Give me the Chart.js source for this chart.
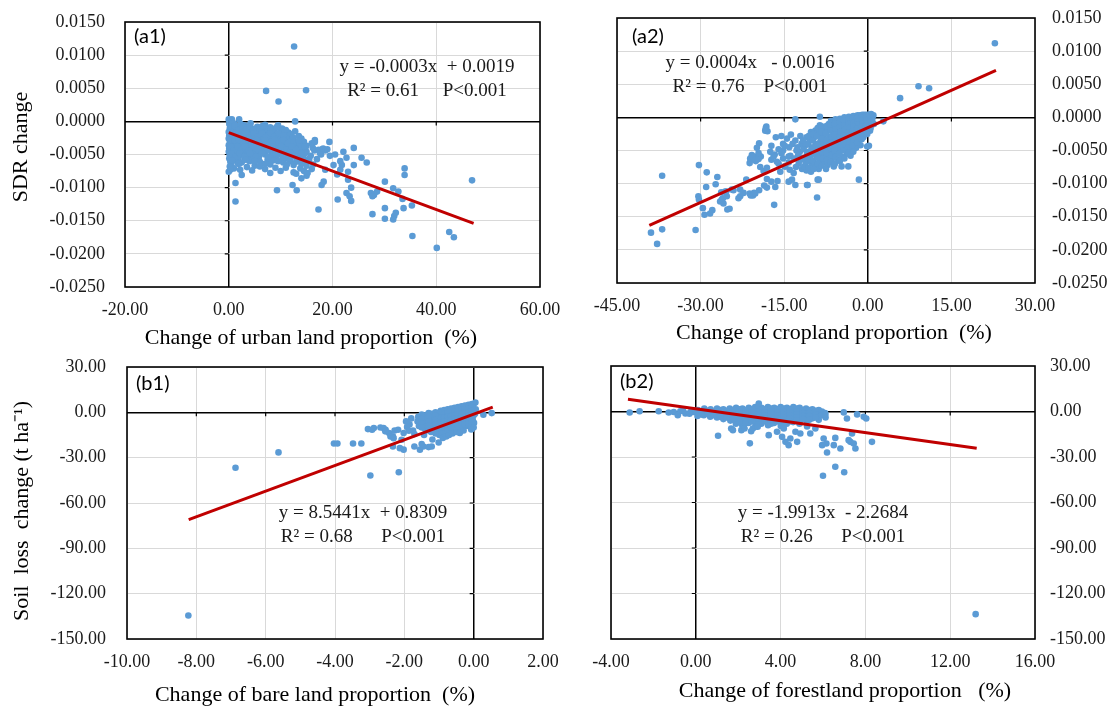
<!DOCTYPE html>
<html>
<head>
<meta charset="utf-8">
<script src="https://cdn.jsdelivr.net/npm/chart.js@4.4.1/dist/chart.umd.min.js"></script>
<style>
  html, body { margin: 0; padding: 0; background: #fff; }
  #wrap { position: relative; width: 1111px; height: 706px; overflow: hidden; }
  canvas { position: absolute; }
</style>
</head>
<body>
<div id="wrap">
  <canvas id="c-a1" width="560" height="352" style="left:0;top:0;width:560px;height:352px"></canvas>
  <canvas id="c-a2" width="551" height="352" style="left:560px;top:0;width:551px;height:352px"></canvas>
  <canvas id="c-b1" width="560" height="366" style="left:0;top:340px;width:560px;height:366px"></canvas>
  <canvas id="c-b2" width="551" height="366" style="left:560px;top:340px;width:551px;height:366px"></canvas>
</div>
<script>
// ---- axes ----
const sdrTicks = [-0.025, -0.02, -0.015, -0.01, -0.005, 0, 0.005, 0.01, 0.015];
const soilTicks = [-150, -120, -90, -60, -30, 0, 30];
const urbanTicks = [-20, 0, 20, 40, 60];
const cropTicks = [-45, -30, -15, 0, 15, 30];
const bareTicks = [-10, -8, -6, -4, -2, 0, 2];
const forestTicks = [-4, 0, 4, 8, 12, 16];

// ---- (a1) urban land vs SDR ----
const urbanPts = [
  [0.0,0.0003],[0.6,0.0003],[2.0,0.0003],
  [0.1,-0.0004],[0.5,-0.0006],[1.0,-0.0003],[1.6,-0.0007],[2.3,-0.0004],[3.0,-0.0006],[4.2,-0.0003],[5.5,-0.0008],[7.0,-0.0005],[9.5,-0.0006],
  [0.2,-0.0011],[0.7,-0.0009],[1.3,-0.0012],[2.0,-0.0010],[2.8,-0.0013],[3.5,-0.0009],[4.5,-0.0011],[5.2,-0.0012],[6.0,-0.0010],[7.2,-0.0013],[8.0,-0.0009],[10.3,-0.0011],
  [0.0,-0.0016],[0.4,-0.0014],[0.9,-0.0017],[1.5,-0.0015],[2.2,-0.0016],[3.0,-0.0014],[3.8,-0.0017],[4.6,-0.0015],[5.4,-0.0016],[6.3,-0.0014],[7.0,-0.0017],[8.0,-0.0015],[8.8,-0.0016],[10.0,-0.0014],[11.5,-0.0017],[12.8,-0.0015],
  [0.1,-0.0021],[0.6,-0.0019],[1.2,-0.0022],[1.9,-0.0020],[2.6,-0.0021],[3.4,-0.0019],[4.2,-0.0022],[5.0,-0.0020],[5.8,-0.0021],[6.6,-0.0019],[7.4,-0.0022],[8.2,-0.0020],[9.0,-0.0021],[10.0,-0.0023],[11.0,-0.0020],[13.5,-0.0022],
  [0.0,-0.0026],[0.5,-0.0024],[1.0,-0.0027],[1.7,-0.0025],[2.4,-0.0026],[3.1,-0.0024],[3.9,-0.0027],[4.7,-0.0025],[5.5,-0.0026],[6.3,-0.0024],[7.1,-0.0027],[7.9,-0.0025],[8.7,-0.0026],[9.6,-0.0024],[10.5,-0.0027],[11.5,-0.0025],[12.3,-0.0028],[14.0,-0.0026],
  [0.2,-0.0031],[0.8,-0.0029],[1.4,-0.0032],[2.1,-0.0030],[2.9,-0.0031],[3.6,-0.0029],[4.4,-0.0032],[5.2,-0.0030],[6.0,-0.0031],[6.8,-0.0029],[7.6,-0.0032],[8.4,-0.0030],[9.3,-0.0031],[10.2,-0.0029],[11.0,-0.0032],[12.0,-0.0030],[13.0,-0.0033],[14.5,-0.0031],[16.6,-0.0028],
  [0.0,-0.0036],[0.6,-0.0034],[1.2,-0.0037],[1.9,-0.0035],[2.6,-0.0036],[3.3,-0.0034],[4.1,-0.0037],[4.9,-0.0035],[5.7,-0.0036],[6.5,-0.0034],[7.3,-0.0037],[8.2,-0.0035],[9.0,-0.0036],[9.9,-0.0034],[10.8,-0.0037],[11.7,-0.0035],[12.6,-0.0036],[13.6,-0.0034],[15.0,-0.0037],
  [0.1,-0.0041],[0.7,-0.0039],[1.4,-0.0042],[2.1,-0.0040],[2.8,-0.0041],[3.6,-0.0039],[4.4,-0.0042],[5.2,-0.0040],[6.0,-0.0041],[6.9,-0.0039],[7.8,-0.0042],[8.7,-0.0040],[9.6,-0.0041],[10.6,-0.0039],[11.5,-0.0042],[12.5,-0.0040],[13.4,-0.0041],[14.5,-0.0043],[16.2,-0.0040],[18.0,-0.0042],
  [0.0,-0.0046],[0.5,-0.0044],[1.1,-0.0047],[1.8,-0.0045],[2.6,-0.0046],[3.4,-0.0044],[4.3,-0.0047],[5.2,-0.0045],[6.2,-0.0046],[7.2,-0.0044],[8.3,-0.0047],[9.4,-0.0045],[10.5,-0.0046],[11.6,-0.0044],[12.7,-0.0047],[13.8,-0.0045],[15.0,-0.0046],[16.5,-0.0044],
  [0.2,-0.0051],[0.9,-0.0049],[1.7,-0.0052],[2.6,-0.0050],[3.6,-0.0051],[4.7,-0.0049],[5.8,-0.0052],[7.0,-0.0050],[8.3,-0.0051],[9.8,-0.0049],[11.2,-0.0052],[12.3,-0.0050],[13.5,-0.0051],[14.6,-0.0049],[15.8,-0.0052],[17.8,-0.0050],
  [0.1,-0.0056],[0.8,-0.0054],[1.8,-0.0057],[3.0,-0.0055],[4.4,-0.0056],[5.8,-0.0054],[7.5,-0.0057],[9.2,-0.0055],[10.9,-0.0056],[12.0,-0.0054],[13.2,-0.0057],[14.3,-0.0055],[15.5,-0.0056],
  [0.3,-0.0061],[1.2,-0.0059],[2.5,-0.0062],[4.0,-0.0060],[6.0,-0.0061],[8.5,-0.0059],[10.5,-0.0062],[11.8,-0.0060],[13.0,-0.0061],[14.4,-0.0059],
  [0.5,-0.0066],[2.0,-0.0064],[5.0,-0.0067],[8.0,-0.0065],[12.5,-0.0066],[14.0,-0.0064],[15.0,-0.0067],
  [1.0,-0.0071],[3.5,-0.0069],[7.0,-0.0072],[11.0,-0.0070],[13.8,-0.0071],
  [0.0,-0.0076],[4.5,-0.0074],[12.5,-0.0077],[14.5,-0.0075],
  [2.5,-0.0081],[13.0,-0.0079],[15.0,-0.0082],[14.0,-0.0086],
  [0.3,-0.0008],[1.1,-0.0007],[1.9,-0.0013],[2.6,-0.0008],[3.3,-0.0012],[4.0,-0.0007],[4.8,-0.0013],[6.5,-0.0007],[8.5,-0.0012],[9.2,-0.0009],[11.0,-0.0013],
  [0.2,-0.0018],[0.8,-0.0023],[1.6,-0.0018],[2.4,-0.0023],[3.2,-0.0018],[4.0,-0.0024],[4.8,-0.0018],[5.6,-0.0023],[6.4,-0.0018],[7.2,-0.0024],[8.0,-0.0018],[8.9,-0.0023],[9.6,-0.0018],[10.6,-0.0021],[12.0,-0.0019],[12.4,-0.0024],
  [0.3,-0.0028],[1.2,-0.0029],[2.0,-0.0028],[2.8,-0.0034],[3.7,-0.0027],[4.5,-0.0034],[5.4,-0.0028],[6.2,-0.0033],[7.0,-0.0029],[7.9,-0.0033],[8.8,-0.0028],[9.7,-0.0033],[10.6,-0.0028],[11.4,-0.0033],[12.5,-0.0031],[13.5,-0.0029],
  [0.4,-0.0038],[1.0,-0.0044],[1.7,-0.0038],[2.4,-0.0043],[3.1,-0.0038],[3.9,-0.0044],[4.8,-0.0038],[5.6,-0.0043],[6.4,-0.0038],[7.4,-0.0043],[8.3,-0.0038],[9.2,-0.0044],[10.1,-0.0038],[11.1,-0.0043],[12.1,-0.0038],[13.0,-0.0043],[14.0,-0.0038],
  [0.5,-0.0048],[1.3,-0.0054],[2.1,-0.0048],[3.1,-0.0053],[4.1,-0.0048],[5.2,-0.0053],[6.4,-0.0048],[7.6,-0.0053],[9.0,-0.0048],[10.4,-0.0054],[11.8,-0.0047],[12.9,-0.0053],[14.0,-0.0048],
  [0.7,-0.0059],[1.8,-0.0064],[3.3,-0.0058],[5.0,-0.0060],[7.0,-0.0064],[9.5,-0.0060],[11.2,-0.0065],[0.2,-0.0068],[6.0,-0.0068],[9.0,-0.0070],[10.0,-0.0075],[8.0,-0.0078],
  [0.3,-0.0073],[1.3,-0.0093],[1.3,-0.0121],[2.2,-0.0073],[9.3,-0.0104],[12.3,-0.0096],[13.1,-0.0104],[17.3,-0.0133],
  [12.6,0.0113],[7.2,0.0046],[14.9,0.0047],[9.6,0.0030],[12.8,0.0000],
  [14.7,-0.0038],[16.0,-0.0033],[17.3,-0.0043],[16.6,-0.0031],[17.6,-0.0048],[18.2,-0.0041],
  [15.5,-0.0060],[16.3,-0.0065],[17.0,-0.0057],[16.0,-0.0072],[15.2,-0.0078],[19.5,-0.0052],[20.5,-0.0050],[21.8,-0.0066],
  [19.4,-0.0031],[18.6,-0.0044],[19.0,-0.0042],[22.1,-0.0046],[24.1,-0.0040],[25.6,-0.0055],[26.6,-0.0062],
  [22.7,-0.0055],[21.5,-0.0060],[20.2,-0.0066],[24.1,-0.0066],[23.0,-0.0076],[21.5,-0.0073],[20.9,-0.0080],
  [18.6,-0.0073],[18.3,-0.0091],[17.9,-0.0096],[23.0,-0.0088],[23.6,-0.0100],[22.7,-0.0108],[23.3,-0.0113],[23.6,-0.0120],[21.0,-0.0118],
  [27.4,-0.0108],[28.0,-0.0111],[28.6,-0.0106],[27.7,-0.0113],[30.1,-0.0091],[31.7,-0.0101],[32.7,-0.0106],
  [27.7,-0.0140],[30.1,-0.0147],[31.9,-0.0143],[32.2,-0.0138],[31.7,-0.0148],[30.1,-0.0131],[33.7,-0.0131],[35.3,-0.0127],
  [33.9,-0.0071],[33.9,-0.0081],[33.5,-0.0117],[35.4,-0.0173],[40.1,-0.0191],[42.5,-0.0167],[43.4,-0.0175],[46.9,-0.0089]
];
const urbanFit = [[0, -0.0017], [47.2, -0.0154]];

// ---- (a2) cropland vs SDR ----
const cropPts = [
  [-14.1,-0.0045],[-13.9,-0.0058],[-14.2,-0.0068],
  [-13.0,-0.0035],[-12.8,-0.0050],[-13.2,-0.0062],[-12.9,-0.0075],
  [-12.1,-0.0028],[-11.9,-0.0040],[-12.2,-0.0052],[-12.0,-0.0064],[-11.8,-0.0078],
  [-11.0,-0.0030],[-11.2,-0.0042],[-10.9,-0.0055],[-11.1,-0.0068],[-11.0,-0.0080],
  [-10.2,-0.0022],[-10.4,-0.0034],[-10.1,-0.0046],[-10.3,-0.0058],[-10.0,-0.0070],[-10.2,-0.0082],
  [-9.4,-0.0020],[-9.6,-0.0030],[-9.3,-0.0040],[-9.5,-0.0050],[-9.2,-0.0060],[-9.4,-0.0072],
  [-8.6,-0.0012],[-8.8,-0.0025],[-8.5,-0.0036],[-8.7,-0.0046],[-8.4,-0.0056],[-8.6,-0.0066],[-8.8,-0.0078],
  [-7.8,-0.0018],[-8.0,-0.0028],[-7.7,-0.0038],[-7.9,-0.0048],[-7.6,-0.0058],[-7.8,-0.0068],
  [-7.0,-0.0010],[-7.2,-0.0020],[-6.9,-0.0030],[-7.1,-0.0040],[-6.8,-0.0050],[-7.0,-0.0060],[-7.2,-0.0072],
  [-6.2,-0.0008],[-6.4,-0.0016],[-6.1,-0.0025],[-6.3,-0.0034],[-6.0,-0.0043],[-6.2,-0.0052],[-6.4,-0.0062],[-6.1,-0.0074],
  [-5.4,-0.0006],[-5.6,-0.0014],[-5.3,-0.0022],[-5.5,-0.0030],[-5.2,-0.0038],[-5.4,-0.0046],[-5.6,-0.0055],[-5.3,-0.0064],
  [-4.6,-0.0004],[-4.8,-0.0011],[-4.5,-0.0018],[-4.7,-0.0026],[-4.4,-0.0034],[-4.6,-0.0042],[-4.8,-0.0050],[-4.5,-0.0060],[-4.7,-0.0074],
  [-3.8,-0.0002],[-4.0,-0.0008],[-3.7,-0.0015],[-3.9,-0.0022],[-3.6,-0.0030],[-3.8,-0.0038],[-4.0,-0.0046],[-3.7,-0.0055],[-3.5,-0.0074],
  [-3.0,0.0000],[-3.2,-0.0006],[-2.9,-0.0012],[-3.1,-0.0019],[-2.8,-0.0026],[-3.0,-0.0033],[-3.2,-0.0041],[-2.9,-0.0050],[-3.1,-0.0058],
  [-2.2,0.0002],[-2.4,-0.0004],[-2.1,-0.0010],[-2.3,-0.0016],[-2.0,-0.0023],[-2.2,-0.0030],[-2.4,-0.0038],[-2.1,-0.0046],
  [-1.4,0.0003],[-1.6,-0.0002],[-1.3,-0.0008],[-1.5,-0.0014],[-1.2,-0.0020],[-1.4,-0.0027],[-1.6,-0.0034],[-1.3,-0.0042],
  [-0.6,0.0004],[-0.8,-0.0001],[-0.5,-0.0006],[-0.7,-0.0011],[-0.4,-0.0017],[-0.6,-0.0023],[-0.8,-0.0030],
  [0.2,0.0004],[0.0,-0.0002],[0.3,-0.0008],[0.1,-0.0014],[0.4,-0.0020],
  [1.0,0.0003],[0.8,-0.0004],[1.1,-0.0010],
  [-13.5,-0.0040],[-12.6,-0.0045],[-12.5,-0.0057],[-12.4,-0.0070],[-11.6,-0.0035],[-11.5,-0.0048],[-11.6,-0.0061],[-11.4,-0.0074],
  [-10.6,-0.0028],[-10.7,-0.0040],[-10.6,-0.0052],[-10.7,-0.0064],[-10.6,-0.0076],
  [-9.8,-0.0025],[-9.9,-0.0035],[-9.8,-0.0045],[-9.9,-0.0055],[-9.8,-0.0066],[-9.7,-0.0078],
  [-9.0,-0.0016],[-9.1,-0.0028],[-9.0,-0.0041],[-9.1,-0.0051],[-9.0,-0.0061],[-9.0,-0.0070],
  [-8.2,-0.0014],[-8.3,-0.0022],[-8.2,-0.0032],[-8.3,-0.0042],[-8.2,-0.0052],[-8.1,-0.0062],[-8.3,-0.0073],
  [-7.4,-0.0013],[-7.5,-0.0024],[-7.4,-0.0034],[-7.5,-0.0044],[-7.4,-0.0054],[-7.3,-0.0064],[-7.5,-0.0078],
  [-6.6,-0.0005],[-6.7,-0.0012],[-6.6,-0.0020],[-6.5,-0.0029],[-6.7,-0.0038],[-6.6,-0.0047],[-6.5,-0.0057],[-6.7,-0.0067],
  [-5.8,-0.0003],[-5.9,-0.0010],[-5.8,-0.0018],[-5.9,-0.0026],[-5.7,-0.0034],[-5.8,-0.0042],[-5.9,-0.0050],[-5.8,-0.0060],[-5.9,-0.0070],
  [-5.0,-0.0002],[-5.1,-0.0008],[-5.0,-0.0015],[-4.9,-0.0022],[-5.1,-0.0030],[-5.0,-0.0038],[-4.9,-0.0046],[-5.1,-0.0055],[-5.0,-0.0066],
  [-4.2,0.0000],[-4.3,-0.0005],[-4.2,-0.0012],[-4.1,-0.0019],[-4.3,-0.0027],[-4.2,-0.0035],[-4.1,-0.0042],[-4.3,-0.0050],[-4.2,-0.0062],
  [-3.4,0.0001],[-3.5,-0.0004],[-3.4,-0.0010],[-3.3,-0.0016],[-3.5,-0.0023],[-3.4,-0.0029],[-3.3,-0.0037],[-3.5,-0.0045],[-3.4,-0.0054],
  [-2.6,0.0002],[-2.7,-0.0002],[-2.6,-0.0008],[-2.5,-0.0013],[-2.7,-0.0020],[-2.6,-0.0027],[-2.5,-0.0034],[-2.7,-0.0042],[-2.6,-0.0052],
  [-1.8,0.0003],[-1.9,-0.0001],[-1.8,-0.0006],[-1.7,-0.0011],[-1.9,-0.0017],[-1.8,-0.0024],[-1.7,-0.0031],[-1.9,-0.0038],
  [-1.0,0.0004],[-1.1,0.0000],[-1.0,-0.0004],[-0.9,-0.0009],[-1.1,-0.0014],[-1.0,-0.0020],[-0.9,-0.0026],[-1.1,-0.0033],
  [-0.2,0.0004],[-0.3,0.0000],[-0.2,-0.0004],[-0.1,-0.0009],[-0.3,-0.0013],[-0.2,-0.0019],[-0.1,-0.0025],
  [0.6,0.0005],[0.5,0.0000],[0.6,-0.0005],[0.7,-0.0011],[0.5,-0.0016],
  [-16.5,-0.0030],[-15.5,-0.0028],[-14.5,-0.0032],[-13.8,-0.0026],
  [-15.2,-0.0040],[-15.2,-0.0050],[-15.2,-0.0062],[-16.0,-0.0048],[-16.0,-0.0070],
  [22.8,0.0112],[9.1,0.0047],[11.0,0.0044],[5.8,0.0029],[2.8,-0.0006],
  [-36.9,-0.0088],[-38.9,-0.0174],[-37.8,-0.0191],[-36.9,-0.0169],[-30.9,-0.0170],
  [-30.3,-0.0072],[-28.9,-0.0083],[-27.0,-0.0090],[-27.3,-0.0101],[-29.0,-0.0105],
  [-30.4,-0.0119],[-30.3,-0.0124],[-29.6,-0.0137],[-29.3,-0.0147],[-28.3,-0.0145],[-27.9,-0.0140],
  [-26.2,-0.0124],[-25.9,-0.0130],[-25.6,-0.0112],[-25.3,-0.0119],[-24.8,-0.0138],
  [-24.1,-0.0110],[-22.9,-0.0119],[-22.3,-0.0114],[-21.0,-0.0118],
  [-20.4,-0.0114],[-19.5,-0.0110],[-18.6,-0.0103],[-17.3,-0.0097],
  [-16.8,-0.0132],[-16.6,-0.0105],[-16.2,-0.0096],
  [-19.8,-0.0059],[-20.8,-0.0057],[-21.0,-0.0064],[-20.1,-0.0066],[-19.2,-0.0059],
  [-19.5,-0.0039],[-18.3,-0.0016],[-18.0,-0.0021],
  [-17.3,-0.0043],[-17.3,-0.0064],[-16.7,-0.0056],
  [-15.5,-0.0054],[-14.9,-0.0043],[-14.2,-0.0059],
  [-14.9,-0.0074],[-14.0,-0.0079],[-13.3,-0.0084],[-13.6,-0.0094],[-13.0,-0.0102],
  [-13.0,-0.0003],[-10.8,-0.0102],[-9.0,-0.0094],[-9.1,-0.0121],[-8.6,0.0001],
  [-1.6,-0.0094],[0.2,-0.0043],
  [-26.5,-0.0127],[-26.0,-0.0122],[-26.3,-0.0113],[-25.4,-0.0112],[-25.2,-0.0139],
  [-24.4,-0.0109],[-23.2,-0.0122],[-22.9,-0.0109],[-21.8,-0.0094],[-21.2,-0.0115],[-20.6,-0.0118],[-20.2,-0.0115],
  [-21.2,-0.0069],[-21.1,-0.0062],[-20.6,-0.0059],[-20.2,-0.0064],[-19.6,-0.0063],[-19.6,-0.0054],[-19.9,-0.0046],[-18.2,-0.0014],[-18.4,-0.0020],
  [-19.3,-0.0075],[-18.7,-0.0081],[-18.1,-0.0076],[-18.1,-0.0093],[-18.1,-0.0106],
  [-17.5,-0.0052],[-16.9,-0.0059],[-16.3,-0.0067],[-15.7,-0.0082],[-14.8,-0.0074],[-14.2,-0.0097],[-10.9,-0.0102],[-8.8,-0.0094],[-0.1,-0.0044]
];
const cropFit = [[-39.2, -0.0163], [23.0, 0.0071]];

// ---- (b1) bare land vs soil loss ----
const barePts = [
  [-1.6,-3],[-1.62,-6],[-1.58,-9],
  [-1.4,-2],[-1.42,-5],[-1.38,-8],[-1.4,-11],[-1.43,-15],
  [-1.2,-1],[-1.22,-4],[-1.18,-7],[-1.2,-10],[-1.23,-13],[-1.19,-18],
  [-1.0,-1],[-1.02,-3.5],[-0.98,-6],[-1.0,-9],[-1.03,-12],[-0.99,-15],[-1.01,-20],
  [-0.9,0],[-0.88,-2.5],[-0.92,-5],[-0.9,-8],[-0.87,-11],[-0.91,-14],[-0.89,-17],
  [-0.8,0.5],[-0.78,-2],[-0.82,-4.5],[-0.8,-7],[-0.77,-10],[-0.81,-13],[-0.79,-16],
  [-0.7,1],[-0.72,-1.5],[-0.68,-4],[-0.7,-6.5],[-0.73,-9],[-0.69,-12],[-0.71,-15],
  [-0.6,1.5],[-0.62,-1],[-0.58,-3.5],[-0.6,-6],[-0.63,-8.5],[-0.59,-11],[-0.61,-14],
  [-0.5,2],[-0.48,-0.5],[-0.52,-3],[-0.5,-5.5],[-0.47,-8],[-0.51,-10.5],[-0.49,-13],
  [-0.4,2.5],[-0.42,0],[-0.38,-2.5],[-0.4,-5],[-0.43,-7.5],[-0.39,-10],
  [-0.3,3],[-0.28,0.5],[-0.32,-2],[-0.3,-4.5],[-0.27,-7],[-0.31,-9.5],[-0.29,-12],
  [-0.2,3.5],[-0.22,1],[-0.18,-1.5],[-0.2,-4],[-0.23,-6.5],[-0.19,-9],
  [-0.1,4],[-0.12,1.5],[-0.08,-1],[-0.1,-3.5],[-0.13,-6],[-0.09,-8.5],
  [0.0,5.5],[-0.02,3],[0.01,0.5],[0.0,-2],[-0.03,-4.5],[0.01,-7],[0.0,-10],
  [0.05,6.5],[0.06,2],[0.04,-1],
  [-1.5,-1.5],[-1.5,-4.5],[-1.5,-7.5],[-1.5,-10],[-1.3,-0.5],[-1.3,-3],[-1.3,-6],[-1.3,-9],[-1.3,-12],
  [-1.1,0],[-1.1,-2.5],[-1.1,-5],[-1.1,-8],[-1.1,-11],[-1.1,-14],
  [-0.95,1],[-0.95,-4],[-0.95,-7],[-0.95,-10],[-0.85,1.5],[-0.85,-1],[-0.85,-3.5],[-0.85,-6],[-0.85,-9],
  [-0.75,2],[-0.75,-0.5],[-0.75,-3],[-0.75,-5.5],[-0.75,-8],[-0.75,-11],
  [-0.65,2.5],[-0.65,0],[-0.65,-2.5],[-0.65,-5],[-0.65,-7.5],[-0.65,-10],
  [-0.55,3],[-0.55,0.5],[-0.55,-2],[-0.55,-4.5],[-0.55,-7],[-0.55,-9.5],
  [-0.45,3.5],[-0.45,1],[-0.45,-1.5],[-0.45,-4],[-0.45,-6.5],[-0.45,-9],
  [-0.35,4],[-0.35,1.5],[-0.35,-1],[-0.35,-3.5],[-0.35,-6],[-0.35,-8.5],
  [-0.25,4.5],[-0.25,2],[-0.25,-0.5],[-0.25,-3],[-0.25,-5.5],[-0.25,-8],
  [-0.15,5],[-0.15,2.5],[-0.15,0],[-0.15,-2.5],[-0.15,-5],[-0.15,-7.5],
  [-0.05,5.5],[-0.05,3.5],[-0.05,1],[-0.05,-1.5],[-0.05,-4],[-0.05,-6],
  [-1.8,-4],[-1.85,-8],[-1.75,-12],[-1.95,-6],
  [-8.23,-134.4],[-6.87,-36.7],[-5.63,-26.5],[-4.03,-20.6],[-3.93,-20.6],[-3.48,-20.6],[-3.24,-20.6],[-3.05,-11.1],[-2.98,-41.8],[-2.16,-39.7],
  [-2.69,-10.0],[-2.54,-11.5],[-2.44,-13.7],[-2.33,-15.9],[-2.28,-12.0],[-2.18,-11.5],[-2.02,-13.7],[-1.92,-9.7],[-1.87,-12.2],[-1.71,-14.4],
  [-2.33,-22.6],[-2.02,-24.7],[-1.71,-22.6],[-1.55,-24.7],[-1.45,-22.6],[-1.21,-22.6],[-1.5,-21],[-1.3,-23],
  [-2.13,-23.7],[-2.08,-18.1],[-2.60,-10.4],[-2.55,-12.6],[-2.40,-16.0],[-2.31,-17.1],[-2.88,-10.4],[-2.93,-11.5],
  [-0.4,-13.6],[-0.07,-11.3],[0.28,-1.6],[0.52,-0.5]
];
const bareFit = [[-8.22, -71.0], [0.55, 3.5]];

// ---- (b2) forestland vs soil loss ----
const forestPts = [
  [0.1,1],[0.12,-1],[0.08,-3],
  [0.4,2],[0.42,-0.5],[0.38,-2.5],
  [0.7,1.5],[0.72,-1],[0.68,-3.5],
  [1.0,2],[1.02,0],[0.98,-2],[1.0,-4],
  [1.3,1.5],[1.32,-0.5],[1.28,-2.5],[1.3,-5],
  [1.6,2],[1.62,0],[1.58,-2],[1.6,-4],[1.63,-6],
  [1.9,2.5],[1.92,0.5],[1.88,-1.5],[1.9,-3.5],[1.93,-5.5],[1.89,-8],
  [2.2,2],[2.22,0],[2.18,-2],[2.2,-4],[2.23,-6],[2.19,-9],
  [2.5,2.5],[2.52,0.5],[2.48,-1.5],[2.5,-3.5],[2.53,-5.5],[2.49,-7.5],
  [2.8,3],[2.82,1],[2.78,-1],[2.8,-3],[2.83,-5],[2.79,-7],[2.81,-10],
  [3.1,2.5],[3.12,0.5],[3.08,-1.5],[3.1,-3.5],[3.13,-5.5],[3.09,-8],
  [3.4,3],[3.42,1],[3.38,-1],[3.4,-3],[3.43,-5],[3.39,-7],[3.41,-9],
  [3.7,2.5],[3.72,0.5],[3.68,-1.5],[3.7,-3.5],[3.73,-5.5],[3.69,-7.5],
  [4.0,3],[4.02,1],[3.98,-1],[4.0,-3],[4.03,-5],[3.99,-7],[4.01,-9.5],
  [4.3,2.5],[4.32,0.5],[4.28,-1.5],[4.3,-3.5],[4.33,-5.5],[4.29,-8],
  [4.6,3],[4.62,1],[4.58,-1],[4.6,-3],[4.63,-5],[4.59,-7],
  [4.9,2.5],[4.92,0.5],[4.88,-1.5],[4.9,-3.5],[4.93,-5.5],[4.89,-8],
  [5.2,2],[5.22,0],[5.18,-2],[5.2,-4],[5.23,-6],
  [5.5,1.5],[5.52,-0.5],[5.48,-2.5],[5.5,-4.5],
  [5.8,1],[5.82,-1],[5.78,-3],[5.8,-5.5],
  [6.1,-1],[6.12,-4],
  [0.25,0],[0.25,-2],[0.55,0.5],[0.55,-1.5],[0.85,0],[0.85,-2.5],[1.15,1],[1.15,-1],[1.15,-3.5],
  [1.45,0.5],[1.45,-1.5],[1.45,-4],[1.75,1],[1.75,-1],[1.75,-3],[1.75,-5],
  [2.05,1.5],[2.05,-0.5],[2.05,-2.5],[2.05,-5],[2.05,-7],[2.35,1],[2.35,-1],[2.35,-3],[2.35,-5],[2.35,-7.5],
  [2.65,1.5],[2.65,-0.5],[2.65,-2.5],[2.65,-4.5],[2.65,-6.5],
  [2.95,2],[2.95,0],[2.95,-2],[2.95,-4],[2.95,-6],[2.95,-8.5],[3.25,1.5],[3.25,-0.5],[3.25,-2.5],[3.25,-4.5],[3.25,-6.5],
  [3.55,2],[3.55,0],[3.55,-2],[3.55,-4],[3.55,-6],[3.55,-8],[3.85,1.5],[3.85,-0.5],[3.85,-2.5],[3.85,-4.5],[3.85,-6.5],
  [4.15,2],[4.15,0],[4.15,-2],[4.15,-4],[4.15,-6],[4.15,-8],[4.45,1.5],[4.45,-0.5],[4.45,-2.5],[4.45,-4.5],[4.45,-6.5],
  [4.75,2],[4.75,0],[4.75,-2],[4.75,-4],[4.75,-6],[5.05,1],[5.05,-1],[5.05,-3],[5.05,-5],
  [5.35,1],[5.35,-1],[5.35,-3],[5.35,-5.5],[5.65,0.5],[5.65,-2],[5.65,-4],[5.95,0],[5.95,-2.5],
  [-3.12,-0.7],[-2.65,0.2],[-1.75,0.2],[-1.28,-0.7],[-1.04,-0.3],[-0.85,-2.4],[-0.73,0.2],[-0.49,-1.3],[-0.25,-0.3],[-0.10,-0.3],[-0.6,0.5],[-0.3,-1.5],
  [1.05,-16.0],[2.55,-21.0],[2.97,5.3],
  [1.67,-11.2],[1.75,-12.3],[2.15,-12.3],[2.30,-11.2],[2.61,-13.0],[2.69,-11.2],[2.92,-10.1],
  [3.83,-13.4],[4.07,-16.7],[4.23,-20.0],[4.38,-22.2],[4.46,-17.8],[4.78,-20.0],[4.70,-13.4],[4.93,-14.5],[5.40,-14.5],[5.64,-11.2],[4.15,-11.2],[3.44,-15.6],[5.25,-9.9],
  [6.03,-17.8],[6.16,-21.1],[6.19,-27.0],[5.96,-22.2],[6.51,-22.2],[6.58,-17.4],[6.82,-24.4],
  [7.37,-14.5],[7.29,-20.0],[7.45,-21.1],[7.53,-24.4],[7.21,-18.9],[8.31,-20.0],
  [6.00,-42.4],[6.58,-36.4],[7.00,-40.1],
  [6.98,-0.6],[7.13,-4.6],[7.61,-1.9],[7.92,-3.5],[8.04,-4.6],[6.11,-1.9],
  [13.2,-133.6]
];
const forestFit = [[-3.2, 8.1], [13.25, -24.3]];

const serif = '"Liberation Serif", "Times New Roman", serif';

// zero axes tick marks, plot box, texts
const decor = {
  id: 'decor',
  beforeDatasetsDraw(chart) {
    const { ctx, chartArea: a, scales: { x, y } } = chart;
    const x0 = x.getPixelForValue(0), y0 = y.getPixelForValue(0);
    ctx.save();
    ctx.strokeStyle = '#000';
    ctx.lineWidth = 1.2;
    ctx.beginPath();
    x.ticks.forEach(t => {
      const px = x.getPixelForValue(t.value);
      if (t.value === 0 || px <= a.left + 1 || px >= a.right - 1) return;
      ctx.moveTo(px, y0); ctx.lineTo(px, y0 + 4);
    });
    y.ticks.forEach(t => {
      const py = y.getPixelForValue(t.value);
      if (Math.abs(t.value) < 1e-12 || py <= a.top + 1 || py >= a.bottom - 1) return;
      ctx.moveTo(x0, py); ctx.lineTo(x0 - 4, py);
    });
    ctx.stroke();
    ctx.restore();
  },
  afterDatasetsDraw(chart, args, o) {
    const { ctx, chartArea: a } = chart;
    ctx.save();
    ctx.strokeStyle = '#000';
    ctx.lineWidth = 1.6;
    ctx.strokeRect(a.left, a.top, a.right - a.left, a.bottom - a.top);

    ctx.fillStyle = '#000';
    ctx.textBaseline = 'middle';
    ctx.textAlign = 'left';
    ctx.font = '20px Lato, "Noto Sans", sans-serif';
    ctx.fillText(o.label, o.labelAt[0], o.labelAt[1]);

    ctx.textAlign = 'center';
    ctx.fillStyle = '#1a1a1a';
    ctx.font = '19px ' + serif;
    ctx.fillText(o.eq1, o.eqAt[0], o.eqAt[1]);
    ctx.fillText(o.eq2, o.eqAt[0], o.eqAt[1] + 24);

    ctx.fillStyle = '#000';
    ctx.font = '22px ' + serif;
    ctx.fillText(o.xTitle, o.xTitleAt[0], o.xTitleAt[1]);
    if (o.yTitle) {
      ctx.translate(o.yTitleAt[0], o.yTitleAt[1]);
      ctx.rotate(-Math.PI / 2);
      ctx.fillText(o.yTitle, 0, 0);
    }
    ctx.restore();
  }
};

const isZero = c => c.tick && Math.abs(c.tick.value) < 1e-12;

function makePanel(id, p) {
  const fixTicks = arr => s => { s.ticks = arr.map(v => ({ value: v })); };
  return new Chart(document.getElementById(id), {
    type: 'scatter',
    data: {
      datasets: [
        { type: 'line', data: p.fit.map(([x, y]) => ({ x, y })), borderColor: '#C00000', borderWidth: 3,
          pointRadius: 0, fill: false, order: 0 },
        { data: p.pts.map(([x, y]) => ({ x, y })), backgroundColor: '#5B9BD5', borderWidth: 0,
          pointRadius: 3.3, order: 1 }
      ]
    },
    options: {
      responsive: false,
      animation: false,
      events: [],
      layout: { padding: p.pad },
      plugins: { legend: { display: false }, tooltip: { enabled: false }, decor: p.decor },
      scales: {
        x: {
          type: 'linear', min: p.xTicks[0], max: p.xTicks[p.xTicks.length - 1],
          afterBuildTicks: fixTicks(p.xTicks),
          afterFit(s) { s.height = p.xH; s.paddingLeft = 0; s.paddingRight = 0; },
          grid: { color: c => isZero(c) ? '#000' : '#d9d9d9', lineWidth: c => isZero(c) ? 1.5 : 1, drawTicks: false },
          border: { display: false },
          ticks: { autoSkip: false, maxRotation: 0, minRotation: 0, padding: 12, color: '#1a1a1a',
                   font: { family: serif, size: 18 }, callback: v => Number(v).toFixed(2) }
        },
        y: {
          type: 'linear', position: p.yPos, min: p.yTicks[0], max: p.yTicks[p.yTicks.length - 1],
          afterBuildTicks: fixTicks(p.yTicks),
          afterFit(s) { s.width = p.yW; s.paddingTop = 0; s.paddingBottom = 0; },
          grid: { color: c => isZero(c) ? '#000' : '#d9d9d9', lineWidth: c => isZero(c) ? 1.5 : 1, drawTicks: false },
          border: { display: false },
          ticks: { autoSkip: false, padding: p.yPad, color: '#1a1a1a',
                   font: { family: serif, size: 18 }, callback: v => Number(v).toFixed(p.yDec) }
        }
      }
    },
    plugins: [decor]
  });
}

makePanel('c-a1', {
  pts: urbanPts, fit: urbanFit, xTicks: urbanTicks, yTicks: sdrTicks, yDec: 4,
  pad: { left: 0, top: 22, right: 20, bottom: 0 }, yPos: 'left', yW: 125, xH: 65, yPad: 20,
  decor: { label: '(a1)', labelAt: [134, 37],
           eq1: 'y = -0.0003x  + 0.0019', eq2: 'R² = 0.61     P<0.001', eqAt: [427, 67],
           xTitle: 'Change of urban land proportion  (%)', xTitleAt: [311, 338],
           yTitle: 'SDR change', yTitleAt: [21, 147] }
});

makePanel('c-a2', {
  pts: cropPts, fit: cropFit, xTicks: cropTicks, yTicks: sdrTicks, yDec: 4,
  pad: { left: 57, top: 18, right: 0, bottom: 0 }, yPos: 'right', yW: 76, xH: 69, yPad: 17,
  decor: { label: '(a2)', labelAt: [72, 37],
           eq1: 'y = 0.0004x   - 0.0016', eq2: 'R² = 0.76    P<0.001', eqAt: [190, 63],
           xTitle: 'Change of cropland proportion  (%)', xTitleAt: [274, 333] }
});

makePanel('c-b1', {
  pts: barePts, fit: bareFit, xTicks: bareTicks, yTicks: soilTicks, yDec: 2,
  pad: { left: 0, top: 27, right: 17, bottom: 0 }, yPos: 'left', yW: 127, xH: 67, yPad: 21,
  decor: { label: '(b1)', labelAt: [136, 44],
           eq1: 'y = 8.5441x  + 0.8309', eq2: 'R² = 0.68      P<0.001', eqAt: [363, 173],
           xTitle: 'Change of bare land proportion  (%)', xTitleAt: [315, 355],
           yTitle: 'Soil  loss  change (t ha⁻¹)', yTitleAt: [22, 171] }
});

makePanel('c-b2', {
  pts: forestPts, fit: forestFit, xTicks: forestTicks, yTicks: soilTicks, yDec: 2,
  pad: { left: 51, top: 26, right: 0, bottom: 0 }, yPos: 'right', yW: 76, xH: 67, yPad: 15,
  decor: { label: '(b2)', labelAt: [60, 42],
           eq1: 'y = -1.9913x  - 2.2684', eq2: 'R² = 0.26      P<0.001', eqAt: [263, 173],
           xTitle: 'Change of forestland proportion   (%)', xTitleAt: [285, 351] }
});
</script>
</body>
</html>
